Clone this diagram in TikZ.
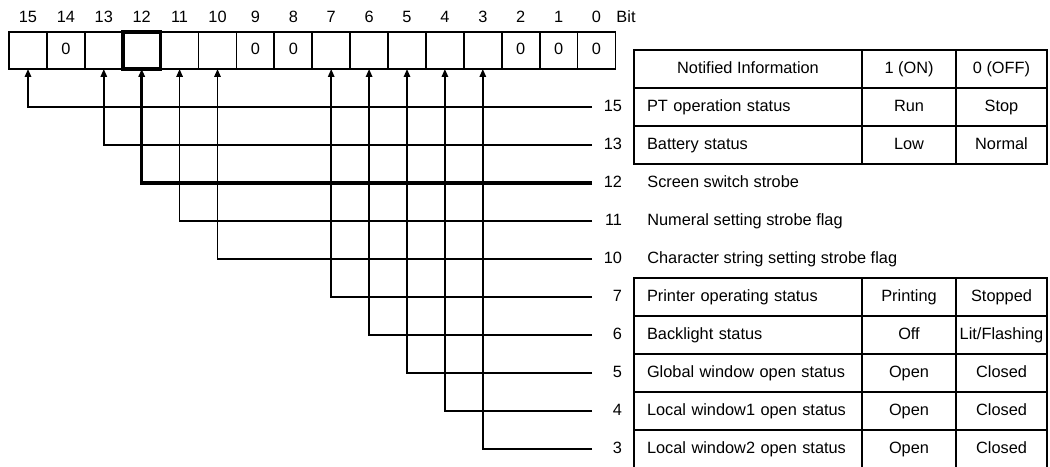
\documentclass[tikz,border=0pt]{standalone}
\usepackage{fontspec}
\setmainfont{Liberation Sans}
\usetikzlibrary{arrows.meta,positioning}

\begin{document}
\begin{tikzpicture}[x=0.02cm,y=-0.02cm,
     >={Triangle[length=4.5pt,width=3.6pt]},
     txt/.style={font=\fontsize{9.3}{11.2}\selectfont,text height=7pt,text depth=2pt},
     cell/.style={draw,line width=1pt,minimum width=0.758cm,minimum height=0.74cm,inner sep=0pt,outer sep=0pt,txt},
     bitno/.style={txt,inner sep=0pt},
     num/.style={txt,anchor=west,text width=0.6cm,align=right,inner sep=0pt,outer sep=0pt},
     tab/.style={draw,line width=1pt,minimum height=0.76cm,inner sep=0pt,outer sep=0pt,txt},
     colinfo/.style={tab,text width=4.04cm,inner xsep=0.26cm,align=left},
     colon/.style={tab,minimum width=1.88cm},
     coloff/.style={tab,minimum width=1.82cm},
     conn/.style={line width=1pt,->}]
    \useasboundingbox (0,0) rectangle (1050,466);
    % bit register
    \foreach \b/\v [count=\i from 0] in {15/{},14/0,13/{},12/{},11/{},10/{},9/0,8/0,7/{},6/{},5/{},4/{},3/{},2/0,1/0,0/0} {
      \node[bitno] (h\b) at ({28+37.9*\i},18) {\b};
      \node[cell]  (b\b) at ({28+37.9*\i},50.5) {\v};
    }
    \node[bitno] (bit) at (626,18) {Bit};
    \draw[line width=2pt] (b12.south west) rectangle (b12.north east);
    % connectors to the notified bits
    \foreach \b/\lw [count=\k from 0] in {15/1pt,13/1pt,12/2pt,11/1pt,10/1pt,7/1pt,6/1pt,5/1pt,4/1pt,3/1pt} {
      \node[num] (n\b) at (592,{107+38*\k}) {\b};
      \draw[conn,line width=\lw] (n\b.west) -| (b\b.south);
    }
    % table
    \node[tab,minimum width=4.56cm] (hdr)    at (748,69)      {Notified Information};
    \node[colon]                    (hdron)  at (909,69)      {1 (ON)};
    \node[coloff]                   (hdroff) at (1001.5,69)   {0 (OFF)};
    \foreach \b/\d/\on/\off in {15/PT operation status/Run/Stop,
                                13/Battery status/Low/Normal,
                                7/Printer operating status/Printing/Stopped,
                                6/Backlight status/Off/{Lit/Flashing},
                                5/Global window open status/Open/Closed,
                                4/Local window1 open status/Open/Closed,
                                3/Local window2 open status/Open/Closed} {
      \node[colinfo] (d\b)   at (n\b -| hdr)    {\d};
      \node[colon]   (on\b)  at (n\b -| hdron)  {\on};
      \node[coloff]  (off\b) at (n\b -| hdroff) {\off};
    }
    \coordinate (txtleft) at (647,0);
    \foreach \b/\d in {12/Screen switch strobe,11/Numeral setting strobe flag,10/Character string setting strobe flag}
      \node[txt,anchor=west,inner sep=0pt] (d\b) at (n\b -| txtleft) {\d};
  \end{tikzpicture}
\end{document}
